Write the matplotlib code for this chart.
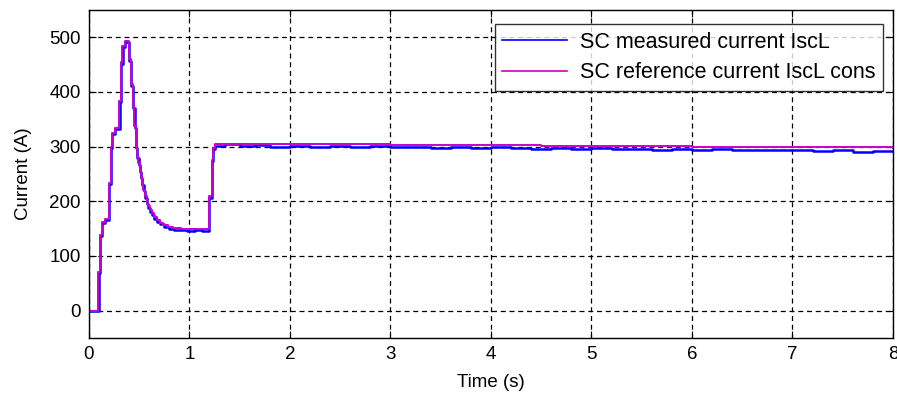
import matplotlib.pyplot as plt

plt.rcParams["font.family"] = ["Liberation Sans", "DejaVu Sans"]

# SC reference current (A), held as steps
ref_t = [0.0, 0.093, 0.109, 0.126, 0.159, 0.202, 0.216, 0.232, 0.259, 0.302, 0.318,
         0.332, 0.358, 0.401, 0.418, 0.435, 0.451, 0.468, 0.480, 0.491, 0.503, 0.514,
         0.527, 0.541, 0.557, 0.574, 0.590, 0.607, 0.624, 0.648, 0.673, 0.705, 0.740,
         0.790, 0.839, 0.920, 1.005, 1.197, 1.221, 1.236, 1.254,
         1.5, 2.0, 2.5, 3.0, 3.5, 4.0, 4.5, 5.0, 5.5, 6.0, 6.5, 7.0, 7.5, 8.0]
ref_v = [0, 70, 138, 163, 167, 233, 300, 325, 334, 383, 454,
         485, 494, 460, 414, 374, 337, 300, 283, 270, 257, 245,
         232, 221, 209, 199, 191, 184, 178, 171, 166, 161, 156,
         153, 151, 150, 149, 209, 276, 297, 305,
         305, 304.5, 304, 303.5, 303, 302.5, 302, 301, 300.5, 300, 299.5, 299, 298.5, 298]

# SC measured current (A)
meas_t = [0.0, 0.095, 0.111, 0.128, 0.161, 0.204, 0.218, 0.234, 0.261, 0.304, 0.320,
          0.334, 0.360, 0.403, 0.420, 0.437, 0.453, 0.470, 0.482, 0.493, 0.505, 0.516,
          0.529, 0.543, 0.559, 0.576, 0.592, 0.609, 0.626, 0.650, 0.675, 0.707, 0.742,
          0.792, 0.841, 0.922, 0.98, 1.05, 1.12, 1.199, 1.223, 1.238, 1.256,
          1.35, 1.5, 1.65, 1.8, 2.0, 2.2, 2.4, 2.6, 2.8, 3.0, 3.2, 3.4, 3.6,
          3.8, 4.0, 4.2, 4.4, 4.6, 4.8, 5.0, 5.2, 5.4, 5.6, 5.8, 6.0, 6.2, 6.4,
          6.6, 6.8, 7.0, 7.2, 7.4, 7.6, 7.8, 8.0]
meas_v = [0, 68, 136, 161, 165, 231, 298, 323, 332, 381, 452,
          483, 492, 457, 411, 371, 334, 297, 280, 267, 254, 242,
          229, 218, 206, 196, 188, 181, 175, 168, 163, 158, 153,
          150, 148, 147, 146, 147, 145, 207, 274, 295, 302,
          304, 301, 303, 300, 302, 299, 301, 300, 302, 299, 300, 298, 300,
          297, 299, 298, 296, 298, 295, 297, 295, 296, 294, 296, 294, 295, 293,
          294, 293, 294, 292, 293, 291, 292, 292]

fig = plt.figure(figsize=(8.97, 3.95), dpi=100)
ax = fig.add_axes([0.0992, 0.1443, 0.8963, 0.8304])

ax.plot(meas_t, meas_v, color="#0000ff", linewidth=1.8, drawstyle="steps-post",
        label="SC measured current IscL")
ax.plot(ref_t, ref_v, color="#cc00cc", linewidth=1.4, drawstyle="steps-post",
        label="SC reference current IscL cons")

ax.set_xlim(0, 8)
ax.set_ylim(-50, 550)
ax.set_xticks(range(0, 9))
ax.set_yticks(range(0, 501, 100))
ax.grid(True, color="black", linestyle=(0, (4, 3)), linewidth=0.9)
ax.tick_params(direction="in", length=5, top=True, right=True, labelsize=13.5, pad=6)
for s in ax.spines.values():
    s.set_linewidth(1.0)

ax.set_xlabel("Time (s)", fontsize=13.5, labelpad=8)
ax.set_ylabel("Current (A)", fontsize=13.5, labelpad=12)

leg = ax.legend(loc="upper right", bbox_to_anchor=(0.9875, 0.957), fontsize=15.5,
                frameon=True, fancybox=False, handlelength=3.0, borderpad=0.35,
                labelspacing=0.45, handletextpad=0.6, borderaxespad=0)
leg.get_frame().set_edgecolor("black")
leg.get_frame().set_linewidth(1.0)
for h in leg.legend_handles:
    h.set_linewidth(1.2)

fig.savefig("out.png", dpi=100, facecolor="white")
